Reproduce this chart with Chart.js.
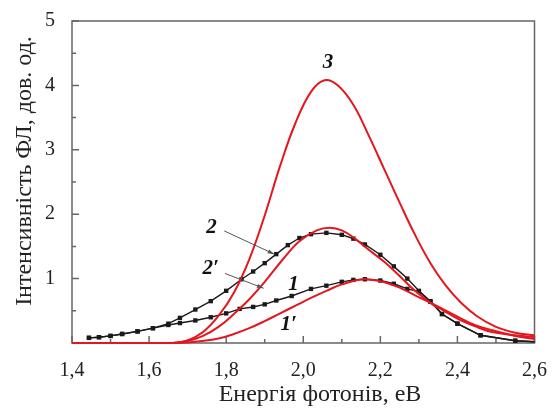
<!DOCTYPE html>
<html>
<head>
<meta charset="utf-8">
<script src="https://cdn.jsdelivr.net/npm/chart.js@4/dist/chart.umd.min.js"></script>
<style>
  html, body { margin: 0; padding: 0; background: #fff; }
</style>
</head>
<body>
<canvas id="plChart" width="555" height="410"></canvas>
<script>
// measured spectra (black, with markers)
const exp1Energy = [1.444, 1.47, 1.50, 1.53, 1.57, 1.61, 1.65, 1.68, 1.72, 1.76, 1.80, 1.835, 1.87, 1.90, 1.93, 1.97, 2.02, 2.06, 2.10, 2.13, 2.16, 2.20, 2.235, 2.27, 2.30, 2.33, 2.36, 2.40, 2.46, 2.55, 2.60];
const exp1Int    = [0.08, 0.09, 0.11, 0.14, 0.18, 0.23, 0.28, 0.31, 0.35, 0.40, 0.46, 0.53, 0.56, 0.60, 0.66, 0.73, 0.84, 0.89, 0.95, 0.98, 0.99, 0.97, 0.92, 0.84, 0.80, 0.64, 0.45, 0.30, 0.12, 0.035, 0.02];
const exp2Energy = [1.444, 1.47, 1.50, 1.53, 1.57, 1.61, 1.65, 1.68, 1.72, 1.76, 1.80, 1.84, 1.87, 1.90, 1.93, 1.96, 1.99, 2.02, 2.06, 2.10, 2.13, 2.16, 2.20, 2.235, 2.27, 2.30, 2.33, 2.36, 2.40, 2.46, 2.55, 2.60];
const exp2Int    = [0.08, 0.09, 0.11, 0.14, 0.18, 0.23, 0.30, 0.39, 0.52, 0.65, 0.81, 0.99, 1.11, 1.24, 1.38, 1.52, 1.63, 1.69, 1.71, 1.68, 1.62, 1.53, 1.37, 1.19, 1.00, 0.81, 0.65, 0.45, 0.30, 0.12, 0.035, 0.02];

// fitted curves (red)
const fit1Energy = [1.40, 1.66, 1.72, 1.78, 1.82, 1.86, 1.90, 1.94, 1.98, 2.02, 2.06, 2.10, 2.155, 2.20, 2.25, 2.29, 2.335, 2.40, 2.445, 2.49, 2.55, 2.60];
const fit1Int    = [0, 0, 0.02, 0.07, 0.14, 0.23, 0.34, 0.46, 0.58, 0.70, 0.81, 0.91, 0.99, 0.96, 0.86, 0.74, 0.61, 0.41, 0.28, 0.20, 0.11, 0.06];
const fit2Energy = [1.40, 1.66, 1.70, 1.74, 1.78, 1.82, 1.86, 1.90, 1.95, 1.99, 2.035, 2.07, 2.10, 2.13, 2.165, 2.21, 2.25, 2.29, 2.335, 2.36, 2.40, 2.45, 2.49, 2.55, 2.60];
const fit2Int    = [0, 0, 0.03, 0.11, 0.25, 0.45, 0.68, 0.95, 1.32, 1.58, 1.75, 1.79, 1.75, 1.64, 1.47, 1.26, 1.04, 0.81, 0.60, 0.52, 0.38, 0.25, 0.17, 0.12, 0.09];
const fit3Energy = [1.40, 1.66, 1.70, 1.74, 1.78, 1.82, 1.86, 1.90, 1.94, 1.98, 2.02, 2.055, 2.09, 2.13, 2.17, 2.21, 2.25, 2.29, 2.33, 2.37, 2.41, 2.45, 2.50, 2.55, 2.60];
const fit3Int    = [0, 0, 0.04, 0.17, 0.42, 0.78, 1.30, 1.98, 2.75, 3.42, 3.90, 4.08, 4.00, 3.70, 3.22, 2.70, 2.18, 1.68, 1.24, 0.89, 0.62, 0.42, 0.25, 0.16, 0.12];

const xTickLabels = ['1,4', '1,6', '1,8', '2,0', '2,2', '2,4', '2,6'];
const yTickLabels = ['', '1', '2', '3', '4', '5'];

const curveNames = ['3', '2', '2\u2032', '1', '1\u2032'];

const SERIF = '"Liberation Serif", "DejaVu Serif", serif';
const RED = '#e5161e';
const AXIS = '#666';

function pts(xs, ys) {
    return xs.map((x, i) => ({ x: x, y: ys[i] }));
}

function fitSet(xs, ys) {
    return {
        data: pts(xs, ys),
        borderColor: RED,
        borderWidth: 2,
        pointRadius: 0,
        tension: 0.4,
        clip: false,
    };
}

function expSet(xs, ys) {
    return {
        data: pts(xs, ys),
        borderColor: '#1a1a1a',
        backgroundColor: '#1a1a1a',
        borderWidth: 1.4,
        pointStyle: 'rect',
        pointRadius: ctx => ctx.dataIndex === xs.length - 1 ? 0 : 3.1,
        pointBorderWidth: 0,
        tension: 0,
        clip: false,
    };
}

// label placement in data coordinates, arrows in data coordinates
const notes = [
    { text: curveNames[0], x: 2.064, y: 4.36 },
    { text: curveNames[1], x: 1.762, y: 1.80, arrow: [[1.795, 1.74], [1.925, 1.38]] },
    { text: curveNames[2], x: 1.760, y: 1.16, arrow: [[1.797, 1.08], [1.897, 0.85]] },
    { text: curveNames[3], x: 1.975, y: 0.90 },
    { text: curveNames[4], x: 1.962, y: 0.28 },
];

const framePlugin = {
    id: 'frame',
    beforeDatasetsDraw(chart) {
        const { ctx, chartArea: a, scales: { x, y } } = chart;
        ctx.save();
        ctx.strokeStyle = AXIS;
        ctx.lineWidth = 1.5;
        ctx.strokeRect(a.left, a.top, a.right - a.left, a.bottom - a.top);
        ctx.beginPath();
        for (let i = 14; i <= 26; i++) {
            const px = x.getPixelForValue(i / 10);
            const len = i % 2 === 0 ? 7 : 4;
            ctx.moveTo(px, a.bottom);
            ctx.lineTo(px, a.bottom - len);
        }
        for (let i = 0; i <= 10; i++) {
            const py = y.getPixelForValue(i / 2);
            const len = i % 2 === 0 ? 7 : 4;
            ctx.moveTo(a.left, py);
            ctx.lineTo(a.left + len, py);
        }
        ctx.stroke();
        ctx.restore();
    },
    afterDatasetsDraw(chart) {
        const { ctx, scales: { x, y } } = chart;
        ctx.save();
        ctx.fillStyle = '#111';
        ctx.font = 'italic bold 21px ' + SERIF;
        ctx.textAlign = 'center';
        ctx.textBaseline = 'middle';
        notes.forEach(n => {
            ctx.fillText(n.text, x.getPixelForValue(n.x), y.getPixelForValue(n.y));
            if (n.arrow) {
                const x0 = x.getPixelForValue(n.arrow[0][0]), y0 = y.getPixelForValue(n.arrow[0][1]);
                const x1 = x.getPixelForValue(n.arrow[1][0]), y1 = y.getPixelForValue(n.arrow[1][1]);
                const ang = Math.atan2(y1 - y0, x1 - x0);
                ctx.strokeStyle = '#555';
                ctx.fillStyle = '#555';
                ctx.lineWidth = 1;
                ctx.beginPath();
                ctx.moveTo(x0, y0);
                ctx.lineTo(x1, y1);
                ctx.stroke();
                ctx.beginPath();
                ctx.moveTo(x1, y1);
                ctx.lineTo(x1 - 7 * Math.cos(ang - 0.3), y1 - 7 * Math.sin(ang - 0.3));
                ctx.lineTo(x1 - 7 * Math.cos(ang + 0.3), y1 - 7 * Math.sin(ang + 0.3));
                ctx.closePath();
                ctx.fill();
                ctx.fillStyle = '#111';
            }
        });
        ctx.restore();
    },
    afterDraw(chart) {
        const { ctx } = chart;
        ctx.save();
        ctx.fillStyle = '#222';
        ctx.font = '24px ' + SERIF;
        ctx.textAlign = 'center';
        ctx.textBaseline = 'middle';
        ctx.fillText('Енергія фотонів, еВ', 320, 395);
        ctx.translate(25, 171);
        ctx.rotate(-Math.PI / 2);
        ctx.fillText('Інтенсивність ФЛ, дов. од.', 0, 0);
        ctx.restore();
    }
};

new Chart(document.getElementById('plChart'), {
    type: 'line',
    data: {
        datasets: [
            fitSet(fit1Energy, fit1Int),
            fitSet(fit2Energy, fit2Int),
            fitSet(fit3Energy, fit3Int),
            expSet(exp1Energy, exp1Int),
            expSet(exp2Energy, exp2Int),
        ]
    },
    options: {
        responsive: false,
        animation: false,
        layout: { padding: { top: 16, right: 15, left: 0, bottom: 0 } },
        plugins: {
            legend: { display: false },
            tooltip: { enabled: false },
        },
        scales: {
            x: {
                type: 'linear',
                min: 1.4,
                max: 2.6,
                afterFit: s => { s.height = 67; },
                grid: { display: false },
                border: { display: false },
                ticks: {
                    stepSize: 0.2,
                    padding: 8,
                    color: '#222',
                    font: { family: SERIF, size: 20 },
                    maxRotation: 0,
                    callback: (v, i) => xTickLabels[i],
                },
            },
            y: {
                min: 0,
                max: 5,
                afterFit: s => { s.width = 72; },
                grid: { display: false },
                border: { display: false },
                ticks: {
                    stepSize: 1,
                    padding: 9,
                    color: '#222',
                    font: { family: SERIF, size: 20 },
                    callback: (v, i) => yTickLabels[i],
                },
            },
        },
    },
    plugins: [framePlugin],
});
</script>
</body>
</html>
